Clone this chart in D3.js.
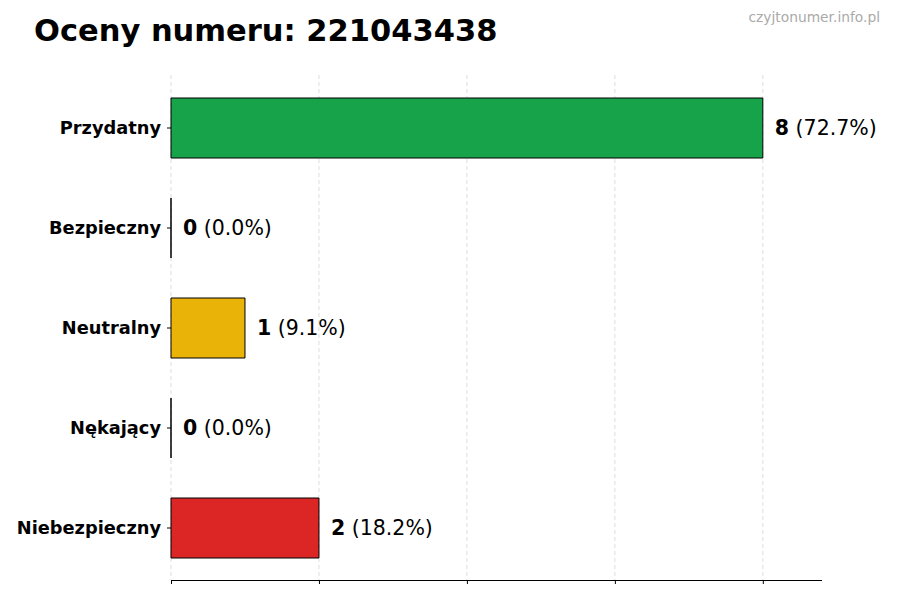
<!DOCTYPE html>
<html><head><meta charset="utf-8">
<script src="https://cdn.jsdelivr.net/npm/d3@7"></script>
<style>body{margin:0;background:#fff}svg{display:block}text{font-family:"DejaVu Sans",sans-serif}</style>
</head><body>
<svg id="c" width="900" height="600"></svg>
<script>
const categories = ["Przydatny","Bezpieczny","Neutralny","Nękający","Niebezpieczny"];
const counts = [8,0,1,0,2];
const colors = ["#16a34a","#2563eb","#eab308","#f97316","#dc2626"];
const xTicks = [0,2,4,6,8];
const total = d3.sum(counts);

const svg = d3.select("#c");
const mLeft = 171, mRight = 822, mTop = 78, mBottom = 578;
const x = d3.scaleLinear().domain([0, d3.max(counts)*1.1]).range([mLeft, mRight]);
const y = d3.scaleBand().domain(categories).range([mTop, mBottom]).paddingInner(0.4).paddingOuter(0.2);

svg.append("text").attr("x",34).attr("y",41).attr("font-size",30.5).attr("font-weight","bold").attr("fill","#000")
  .text("Oceny numeru: 221043438");
svg.append("text").attr("x",880).attr("y",22).attr("text-anchor","end").attr("font-size",13.8).attr("fill","#aaa")
  .text("czyjtonumer.info.pl");

// grid
svg.append("g").selectAll("line").data(xTicks).join("line")
  .attr("x1",d=>x(d)).attr("x2",d=>x(d)).attr("y1",75).attr("y2",580)
  .attr("stroke","#d4d4d4").attr("stroke-dasharray","4,3").attr("stroke-width",0.8);

// bars (paths so zero-width bars still show their edge)
svg.append("g").selectAll("path").data(categories).join("path")
  .attr("d",(d,i)=>{const x0=x(0),w=x(counts[i])-x(0),y0=y(d),h=y.bandwidth();return `M${x0},${y0}h${w}v${h}h${-w}Z`;})
  .attr("fill",(d,i)=>colors[i]).attr("stroke","#000").attr("stroke-width",1);

// value labels
const lab = svg.append("g").selectAll("text").data(categories).join("text")
  .attr("x",(d,i)=>x(counts[i])+12).attr("y",d=>y(d)+y.bandwidth()/2).attr("dy","0.35em")
  .attr("font-size",20.5).attr("fill","#000");
lab.append("tspan").attr("font-weight","bold").text((d,i)=>counts[i]);
lab.append("tspan").text((d,i)=>" ("+(counts[i]/total*100).toFixed(1)+"%)");

// y axis (no spine)
const ya = svg.append("g").attr("transform",`translate(${mLeft},0)`).call(d3.axisLeft(y).tickSize(4).tickPadding(6));
ya.select(".domain").remove();
ya.selectAll("text").attr("font-size",17.8).attr("font-weight","bold").attr("fill","#000").style("font-family","DejaVu Sans");

// x axis
const xa = svg.append("g").attr("transform",`translate(0,580)`).call(d3.axisBottom(x).tickValues(xTicks).tickSize(4).tickFormat(""));
xa.select(".domain").attr("d",`M${mLeft},0.5H${mRight}`).attr("stroke","#000");
</script>
</body></html>
